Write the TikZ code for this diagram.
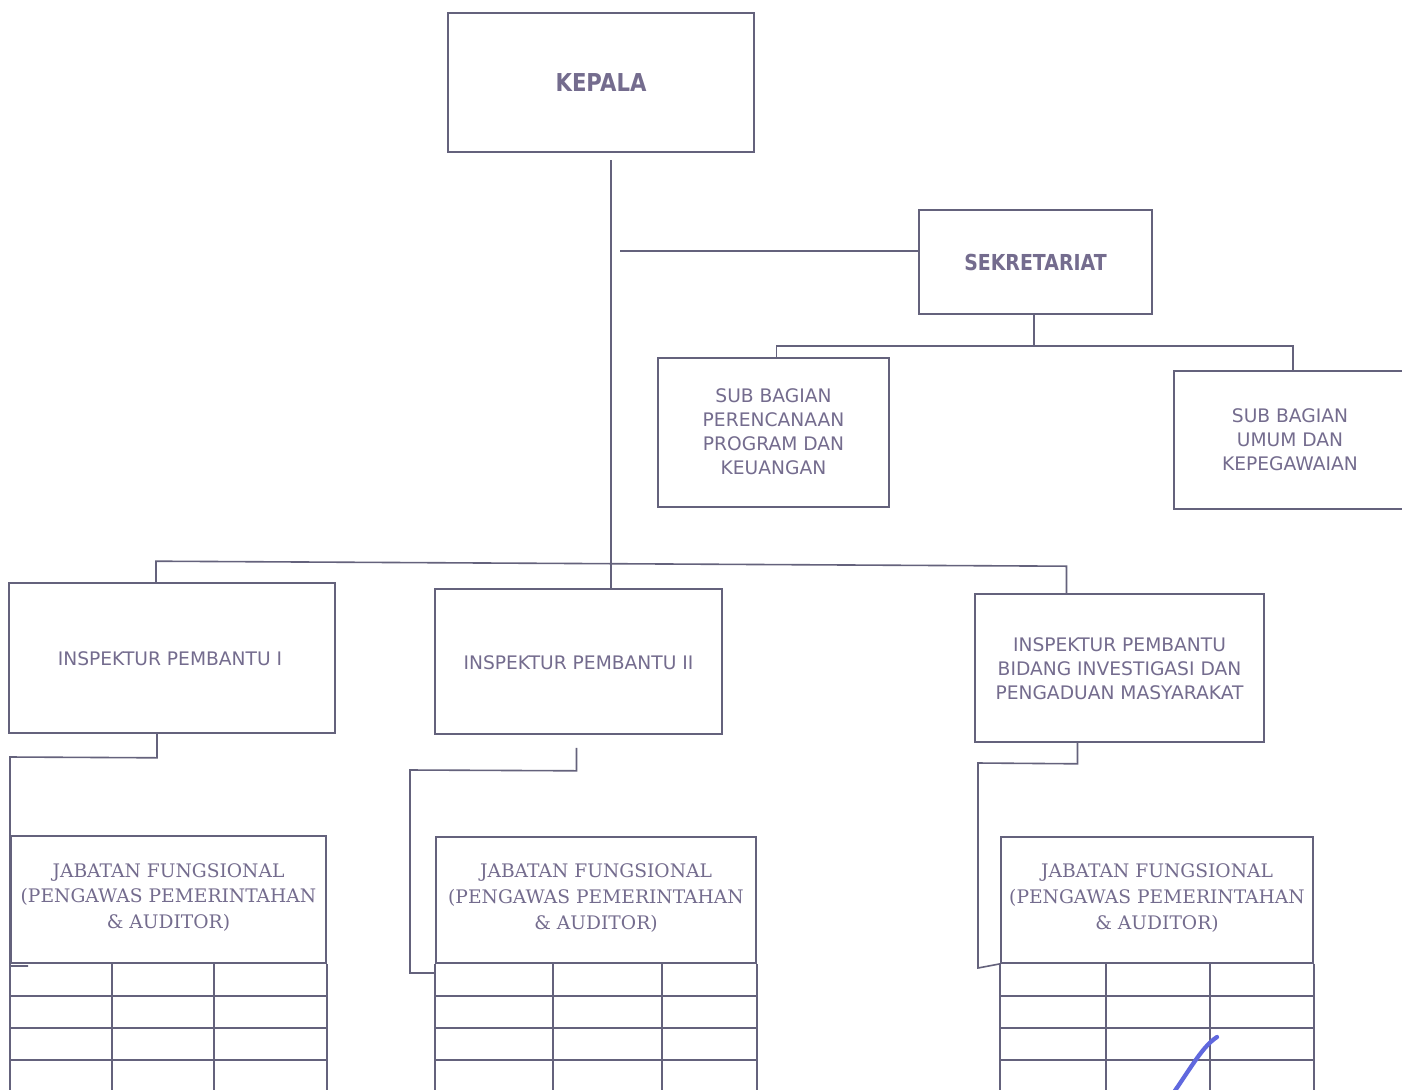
\documentclass[tikz,border=0pt]{standalone}
\usepackage{fontspec}
\usetikzlibrary{fit,calc}
\newfontfamily\tahoma{DejaVu Sans}
\newfontfamily\tahomab[FakeStretch=0.86]{DejaVu Sans}
\newfontfamily\bookman{DejaVu Serif}
\definecolor{ink}{RGB}{116,108,142}
\definecolor{ln}{RGB}{100,98,124}
\definecolor{pen}{RGB}{96,104,222}
\begin{document}
\begin{tikzpicture}[x=0.75pt,y=-0.75pt,
  box/.style={draw=ln,line width=1.2pt,inner sep=0pt},
  lab/.style={inner sep=0pt,align=center,text=ink,anchor=center},
  conn/.style={draw=ln,line width=1.2pt},
  headf/.style={font=\tahomab\bfseries\fontsize{18.5pt}{22pt}\selectfont},
  regf/.style={font=\tahoma\fontsize{14pt}{18pt}\selectfont},
  serf/.style={font=\bookman\fontsize{14pt}{19.2pt}\selectfont}]
\useasboundingbox[fill=white] (0,0) rectangle (1402,1089);

% boxes
\node[box,fit={(448,13) (754,152)}] (kepala) {};
\node[box,fit={(919,210) (1152,314)}] (sek) {};
\node[box,fit={(658,358) (889,507)}] (sb1) {};
\node[box,fit={(1174,371) (1406,509)}] (sb2) {};
\node[box,fit={(9,583) (335,733)}] (ins1) {};
\node[box,fit={(435,589) (722,734)}] (ins2) {};
\node[box,fit={(975,594) (1264,742)}] (ins3) {};
\node[box,fit={(11,836) (326,963)}] (jab1) {};
\node[box,fit={(436,837) (756,963)}] (jab2) {};
\node[box,fit={(1001,837) (1313,963)}] (jab3) {};

% labels
\node[lab,headf] (kepalat) at (kepala.center) {KEPALA};
\node[lab,font=\tahomab\bfseries\fontsize{16.5pt}{20pt}\selectfont] (sekt) at (sek.center) {SEKRETARIAT};
\node[lab,regf] (sb1t) at ($(sb1.center)+(0,-1)$) {SUB BAGIAN\\PERENCANAAN\\PROGRAM DAN\\KEUANGAN};
\node[lab,regf] (sb2t) at ($(sb2.center)+(0,0)$) {SUB BAGIAN\\UMUM DAN\\KEPEGAWAIAN};
\node[lab,regf] (ins1t) at ($(ins1.center)+(-2,1)$) {INSPEKTUR PEMBANTU I};
\node[lab,regf] (ins2t) at ($(ins2.center)+(0,1)$) {INSPEKTUR PEMBANTU II};
\node[lab,regf] (ins3t) at ($(ins3.center)+(0,1)$) {INSPEKTUR PEMBANTU\\BIDANG INVESTIGASI DAN\\PENGADUAN MASYARAKAT};
\foreach \j in {jab1,jab2,jab3}{
  \node[lab,serf] (\j t) at ($(\j.center)+(0,-2)$) {JABATAN FUNGSIONAL\\(PENGAWAS PEMERINTAHAN\\\&~AUDITOR)};
}

% tables below the headers
\foreach \j/\ca/\cb in {jab1/112/214, jab2/553/662, jab3/1106/1210}{
  \draw[conn] (\j.south west) -- ++(0,135);
  \draw[conn] (\j.south east) -- ++(0,135);
  \draw[conn] (\j.south west -| \ca,0) -- ++(0,135);
  \draw[conn] (\j.south west -| \cb,0) -- ++(0,135);
  \foreach \r in {32,64,96}{
    \draw[conn] ($(\j.south west)+(0,\r)$) -- ($(\j.south east)+(0,\r)$);
  }
}

% connectors
\coordinate (trunk) at (611,160);
\draw[conn] (trunk) -- (ins2.north -| trunk);
\coordinate (sekin) at (620,251);
\draw[conn] (sekin) -- (sekin -| sek.west);
\coordinate (sbbus) at (1034,347);
\draw[conn] (sek.south -| sbbus) -- (sbbus);
\draw[conn] ($(sb1.north)+(3,0)$) -- ($(sb1.north)+(3,-11)$) -- ($(sb2.north)+(3,-24)$) -- ($(sb2.north)+(3,0)$);
\draw[conn] ($(ins1.north)+(-16,0)$) -- ($(ins1.north)+(-16,-21)$) -- ($(ins3.north)+(-53,-27)$) -- ($(ins3.north)+(-53,0)$);
% to jabatan
\draw[conn] ($(ins1.south)+(-15,0)$) -- ($(ins1.south)+(-15,24)$) -- (10,757) -- (10,966) -- (28,966);
\draw[conn] ($(ins2.south)+(-2,13)$) -- ($(ins2.south)+(-2,36)$) -- (410,770) -- (410,973) -- (jab2.south west |- 0,973);
\draw[conn] ($(ins3.south)+(-42,0)$) -- ($(ins3.south)+(-42,21)$) -- (978,763) -- (978,968) -- (jab3.south west);

% pen stroke
\draw[pen,line width=3.2pt,line cap=round] (1172,1095) .. controls (1192,1066) and (1203,1046) .. (1217,1037);
\end{tikzpicture}
\end{document}
